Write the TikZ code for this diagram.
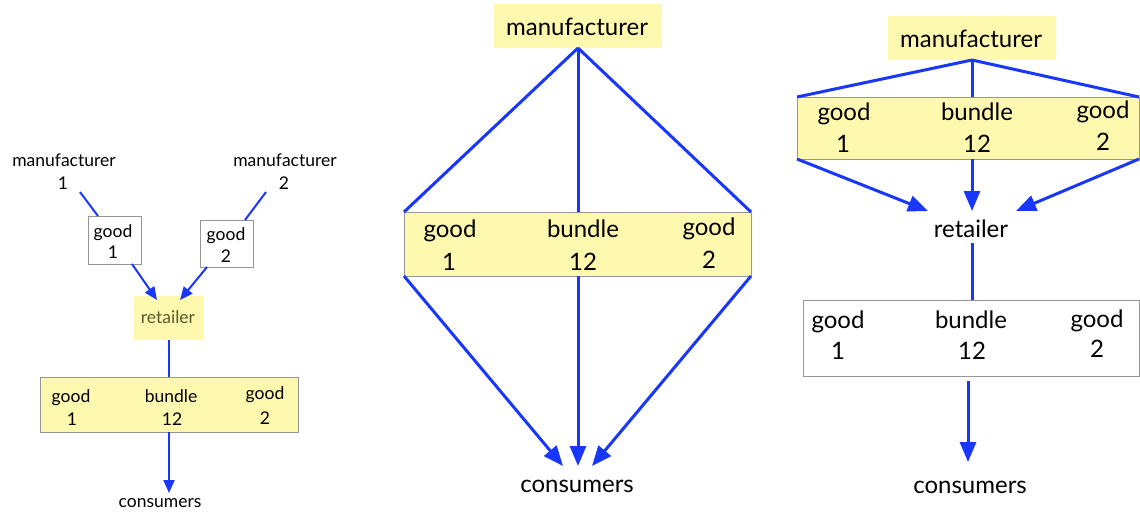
\documentclass[tikz,border=0pt]{standalone}
\usepackage{fontspec}
\setmainfont{Lato}
\usetikzlibrary{arrows.meta,calc}
\definecolor{yfill}{RGB}{255,249,176}
\definecolor{bord}{RGB}{150,150,150}
\definecolor{ablue}{RGB}{25,55,250}
\definecolor{olivetxt}{RGB}{90,90,40}
\tikzset{
 big/.style={font=\fontsize{24}{28}\selectfont, inner sep=0pt, anchor=base},
 sml/.style={font=\fontsize{17.5}{20}\selectfont, inner sep=0pt, anchor=base},
 ybox/.style={draw=bord, fill=yfill, line width=1pt, inner sep=0pt, outer sep=0pt},
 wbox/.style={draw=bord, fill=white, line width=1pt, inner sep=0pt, outer sep=0pt},
 hlbox/.style={fill=yfill, inner sep=0pt, outer sep=0pt},
 bline/.style={draw=ablue, line width=3pt},
 barr/.style={bline, -{Triangle[length=20pt,width=16pt]}},
 sline/.style={draw=ablue, line width=2pt},
 sarr/.style={sline, -{Triangle[length=13pt,width=11pt]}},
}
\begin{document}
\begin{tikzpicture}[x=1pt,y=-1pt]
\useasboundingbox (0,0) rectangle (1140,515);
% ---------------- left diagram ----------------
\node[sml] (m1a) at (64,166) {manufacturer};
\node[sml] (m1b) at (63,189) {1};
\node[sml] (m2a) at (285,166) {manufacturer};
\node[sml] (m2b) at (284,189) {2};
\node[wbox, minimum width=53pt, minimum height=48pt] (G1) at (114.5,240) {};
\node[sml] (g1a) at (113,237) {good};
\node[sml] (g1b) at (113,258) {1};
\node[wbox, minimum width=53pt, minimum height=47pt] (G2) at (226.5,243.5) {};
\node[sml] (g2a) at (226,240) {good};
\node[sml] (g2b) at (226,262) {2};
\node[hlbox, minimum width=70pt, minimum height=44pt] (R) at (169,318) {};
\node[sml, text=olivetxt] (rt) at (168,323) {retailer};
\node[ybox, minimum width=258pt, minimum height=55pt] (LB) at (169,404.5) {};
\node[sml] (lb1) at (71,402) {good};
\node[sml] (lb2) at (72,425) {1};
\node[sml] (lb3) at (171,402) {bundle};
\node[sml] (lb4) at (172,425) {12};
\node[sml] (lb5) at (265,399) {good};
\node[sml] (lb6) at (265,424) {2};
\node[sml] (lc) at (160,507) {consumers};
\coordinate (m1c) at (80,192);
\coordinate (m2c) at (266,192);
\coordinate (lct) at (169,493);
\draw[sline] (m1c) -- ($(G1.north west)+(10,0)$);
\draw[sarr] ($(G1.south west)+(44,0)$) -- ($(R.north west)+(23,4)$);
\draw[sline] (m2c) -- ($(G2.north west)+(45,0)$);
\draw[sarr] ($(G2.south west)+(7,0)$) -- ($(R.north west)+(46,4)$);
\draw[sline] (R.south) -- (LB.north);
\draw[sarr] (LB.south) -- (lct);
% ---------------- middle diagram ----------------
\node[hlbox, minimum width=168pt, minimum height=44pt] (MM) at (578,26) {};
\node[big] (mmt) at (577,35) {manufacturer};
\node[ybox, minimum width=347pt, minimum height=64pt] (MB) at (577.5,244) {};
\node[big] (mb1) at (450,237) {good};
\node[big] (mb2) at (449,270) {1};
\node[big] (mb3) at (583,237) {bundle};
\node[big] (mb4) at (583,270) {12};
\node[big] (mb5) at (709,235) {good};
\node[big] (mb6) at (709,268) {2};
\node[big] (mc) at (577,492) {consumers};
\coordinate (mt1) at (563,466);
\coordinate (mt2) at (578,466);
\coordinate (mt3) at (592,466);
\draw[bline] (MM.south) -- (MB.north west);
\draw[bline] (MM.south) -- (MM.south |- MB.north);
\draw[bline] (MM.south) -- (MB.north east);
\draw[barr] (MB.south west) -- (mt1);
\draw[barr] (MM.south |- MB.south) -- (mt2);
\draw[barr] (MB.south east) -- (mt3);
% ---------------- right diagram ----------------
\node[hlbox, minimum width=168pt, minimum height=44pt] (RM) at (972,38) {};
\node[big] (rmt) at (971,47) {manufacturer};
\node[ybox, minimum width=342pt, minimum height=62pt] (RB) at (968,128) {};
\node[big] (rb1) at (844,120) {good};
\node[big] (rb2) at (843,152) {1};
\node[big] (rb3) at (977,120) {bundle};
\node[big] (rb4) at (977,152) {12};
\node[big] (rb5) at (1103,118) {good};
\node[big] (rb6) at (1103,150) {2};
\node[big] (rr) at (971,237) {retailer};
\node[wbox, minimum width=336pt, minimum height=76pt] (RW) at (971,338) {};
\node[big] (rw1) at (838,328) {good};
\node[big] (rw2) at (838,359) {1};
\node[big] (rw3) at (971,328) {bundle};
\node[big] (rw4) at (972,359) {12};
\node[big] (rw5) at (1097,327) {good};
\node[big] (rw6) at (1097,357) {2};
\node[big] (rc) at (970,493) {consumers};
\coordinate (rt1) at (928,211);
\coordinate (rt2) at (972,211);
\coordinate (rt3) at (1016,211);
\coordinate (rrb) at (972,243);
\coordinate (rws) at (968,381);
\coordinate (rct) at (968,462);
\draw[bline] (RM.south) -- (RB.north west);
\draw[bline] (RM.south) -- (RM.south |- RB.north);
\draw[bline] (RM.south) -- (RB.north east);
\draw[barr] (RB.south west) -- (rt1);
\draw[barr] (RM.south |- RB.south) -- (rt2);
\draw[barr] (RB.south east) -- (rt3);
\draw[bline] (rrb) -- (rrb |- RW.north);
\draw[barr] (rws) -- (rct);
\end{tikzpicture}
\end{document}
